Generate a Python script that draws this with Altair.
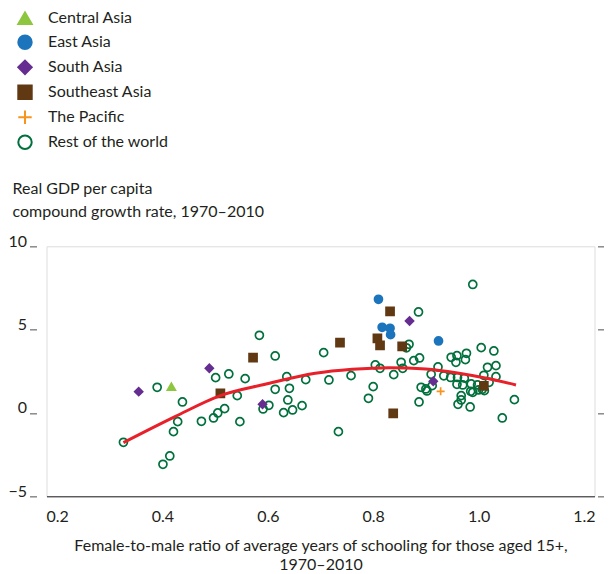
import altair as alt
import pandas as pd

# ---------------- data ----------------
regions = ["Central Asia", "East Asia", "South Asia", "Southeast Asia",
           "The Pacific", "Rest of the world"]
shapes = ["triangle-up", "circle", "diamond", "square", "M-1,0H1M0,-1V1", "circle"]
fills = ["#8dc63f", "#1c75bc", "#662d91", "#603913", "transparent", "transparent"]
strokes = ["#8dc63f", "#1c75bc", "#662d91", "#603913", "#f7941d", "#00703c"]

central_x = [0.417]
central_y = [1.58]

east_x = [0.810, 0.817, 0.832, 0.833, 0.924]
east_y = [6.82, 5.14, 5.08, 4.70, 4.32]

south_x = [0.355, 0.489, 0.590, 0.869, 0.914]
south_y = [1.28, 2.68, 0.52, 5.52, 1.90]

southeast_x = [0.510, 0.572, 0.737, 0.808, 0.813, 0.832, 0.855, 0.838, 1.010]
southeast_y = [1.18, 3.32, 4.22, 4.48, 4.06, 6.10, 4.00, -0.02, 1.62]

pacific_x = [0.928]
pacific_y = [1.30]

rest_x = [0.326, 0.390, 0.438, 0.429, 0.421, 0.414, 0.401, 0.501, 0.526, 0.557,
          0.542, 0.474, 0.497, 0.505, 0.518, 0.547, 0.584, 0.614, 0.636, 0.672,
          0.716, 0.758, 0.706, 0.614, 0.641, 0.638, 0.591, 0.602, 0.630, 0.647,
          0.665, 0.734, 0.800, 0.791, 0.804, 0.813, 0.989, 0.886, 0.868, 0.863,
          0.853, 0.856, 0.877, 0.888, 0.839, 0.887, 0.923, 0.910, 0.934, 0.947,
          0.960, 0.973, 0.891, 0.900, 0.902, 0.912, 0.959, 0.970, 0.986, 0.998,
          0.989, 1.000, 1.011, 1.005, 1.029, 0.948, 0.959, 0.957, 0.977, 0.975,
          1.017, 1.033, 1.010, 1.033, 1.020, 0.967, 0.967, 0.961, 0.984, 1.068,
          1.045, 0.985, 1.007]
rest_y = [-1.76, 1.54, 0.66, -0.52, -1.12, -2.58, -3.08, 2.12, 2.34, 2.06,
          1.04, -0.50, -0.30, 0.00, 0.26, -0.52, 4.66, 3.42, 2.18, 2.00,
          1.98, 2.24, 3.62, 1.42, 1.48, 0.78, 0.24, 0.46, 0.02, 0.18,
          0.44, -1.12, 1.58, 0.88, 2.88, 2.68, 7.71, 6.06, 4.12, 3.91,
          3.04, 2.68, 3.14, 3.30, 2.30, 0.66, 2.76, 2.32, 2.23, 2.13,
          2.13, 2.09, 1.54, 1.44, 1.32, 1.64, 1.72, 1.68, 1.74, 1.68,
          1.24, 1.38, 1.34, 3.92, 3.72, 3.34, 3.44, 3.04, 3.58, 3.20,
          2.74, 2.84, 2.26, 2.18, 1.84, 1.04, 0.78, 0.52, 0.36, 0.80,
          -0.30, 1.30, 1.42]

# fitted curve
curve_x = [0.326, 0.424, 0.510, 0.595, 0.690, 0.760, 0.830, 0.900, 0.960, 1.020, 1.071]
curve_y = [-1.78, -0.22, 1.04, 1.72, 2.38, 2.62, 2.72, 2.64, 2.40, 2.05, 1.68]

# ---------------- build tables ----------------
groups = [
    ("Rest of the world", rest_x, rest_y),
    ("Central Asia", central_x, central_y),
    ("East Asia", east_x, east_y),
    ("South Asia", south_x, south_y),
    ("Southeast Asia", southeast_x, southeast_y),
    ("The Pacific", pacific_x, pacific_y),
]
rows = []
for name, xs, ys in groups:
    for xv, yv in zip(xs, ys):
        rows.append({"region": name, "ratio": xv, "growth": yv})
points_df = pd.DataFrame(rows)
curve_df = pd.DataFrame({"ratio": curve_x, "growth": curve_y})

FONT = "Lato"
TXT = "#231f20"

x_scale = alt.Scale(domain=[0.18, 1.22], nice=False, zero=False)
y_scale = alt.Scale(domain=[-5, 10], nice=False, zero=False)

x_axis = alt.Axis(
    values=[0.2, 0.4, 0.6, 0.8, 1.0, 1.2], format=".1f",
    ticks=False, tickSize=0, grid=False,
    domainColor=TXT, domainWidth=1,
    labelFontSize=16, labelColor=TXT, labelFont=FONT, labelPadding=12,
    title=["Female-to-male ratio of average years of schooling for those aged 15+,", "1970–2010"],
    titleFontSize=16, titleFontWeight="normal", titleColor=TXT, titleFont=FONT,
    titleBaseline="alphabetic", titleAlign="center", titleY=54, titleLineHeight=19,
)

y_axis_left = alt.Axis(
    orient="left", values=[-5, 0, 5, 10], grid=False, domain=False,
    offset=10, tickSize=7, tickWidth=1.5, tickColor="#8a8a8a",
    labelFontSize=16, labelColor=TXT, labelFont=FONT, labelPadding=3,
    labelBaseline="alphabetic",
    title=["Real GDP per capita", "compound growth rate, 1970–2010"],
    titleAngle=0, titleAlign="left", titleBaseline="alphabetic",
    titleX=-24.5, titleY=-53, titleFontSize=16, titleFontWeight="normal",
    titleColor=TXT, titleFont=FONT, titleLineHeight=23,
)

y_axis_right = alt.Axis(
    orient="right", values=[-5, 0, 5, 10], grid=False, domain=False,
    labels=False, offset=3, tickSize=8, tickWidth=1.5, tickColor="#8a8a8a",
    title=None,
)

leg = alt.Legend(
    title=None, orient="none", legendX=-29.5, legendY=-236, padding=0,
    labelFontSize=16, labelColor=TXT, labelFont=FONT,
    symbolSize=180, symbolStrokeWidth=2, rowPadding=3, labelOffset=15,
)

points = alt.Chart(points_df).mark_point(filled=False, size=64, strokeWidth=1.7, opacity=1).encode(
    x=alt.X("ratio:Q", scale=x_scale, axis=x_axis),
    y=alt.Y("growth:Q", scale=y_scale, axis=y_axis_left),
    shape=alt.Shape("region:N", scale=alt.Scale(domain=regions, range=shapes), legend=leg),
    fill=alt.Fill("region:N", scale=alt.Scale(domain=regions, range=fills), legend=leg),
    stroke=alt.Stroke("region:N", scale=alt.Scale(domain=regions, range=strokes), legend=leg),
)

curve = alt.Chart(curve_df).mark_line(color="#e8202a", strokeWidth=3, interpolate="monotone").encode(
    x=alt.X("ratio:Q", scale=x_scale),
    y=alt.Y("growth:Q", scale=y_scale, axis=y_axis_right),
)

chart = alt.layer(points, curve).resolve_axis(y="independent").properties(
    width=548, height=250,
    autosize=alt.AutoSizeParams(type="none"),
    padding={"left": 38.5, "top": 238.3, "right": 9.5, "bottom": 78},
).configure_view(stroke=None).configure(font=FONT)

chart.save("out.html", embed_options={"renderer": "svg", "actions": False})
